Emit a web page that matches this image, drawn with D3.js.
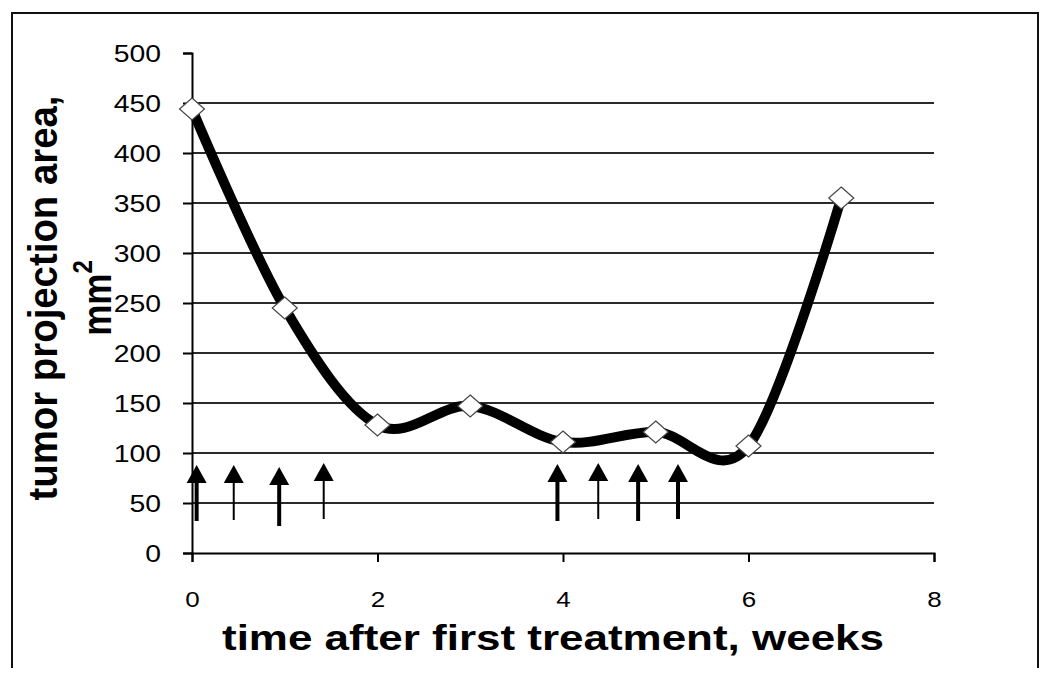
<!DOCTYPE html>
<html>
<head>
<meta charset="utf-8">
<script src="https://cdn.jsdelivr.net/npm/d3@7"></script>
<style>
  body { margin: 0; background: #fff; }
  text { font-family: "Liberation Sans", Arial, sans-serif; fill: #000; }
</style>
</head>
<body>
<div class="chart"></div>
<script>
// data
var weeks = [0, 1, 2, 3, 4, 5, 6, 7];
var area = [444, 245, 128, 147, 111, 121, 107, 355];

// treatment arrows
var arrowWeeks = [0.05, 0.45, 0.94, 1.42, 3.94, 4.38, 4.81, 5.24];
var arrowTop = [88, 88, 86, 90, 89, 90, 89, 89];
var arrowBase = [32, 33, 27, 34, 32, 34, 32, 34];
var arrowThick = [true, false, true, false, true, false, true, true];

var yTicks = [0, 50, 100, 150, 200, 250, 300, 350, 400, 450, 500];
var xTicks = [0, 2, 4, 6, 8];

var svgWidth = 1050;
var svgHeight = 683;
var stretch = 1.18;

var svg = d3.select(".chart")
  .append("svg")
  .attr("width", svgWidth)
  .attr("height", svgHeight);

// outer frame (bottom edge is cut off)
svg.append("path")
  .attr("d", "M12,668 L12,13 L1038,13 L1038,668")
  .attr("fill", "none")
  .attr("stroke", "#111")
  .attr("stroke-width", 2);

var xScale = d3.scaleLinear().domain([0, 8]).range([192, 934]);
var yScale = d3.scaleLinear().domain([0, 500]).range([553, 53]);

// gridlines
svg.append("g")
  .selectAll("line")
  .data(yTicks.filter(d => d > 0 && d < 500))
  .enter()
  .append("line")
  .attr("x1", xScale(0))
  .attr("x2", xScale(8))
  .attr("y1", d => yScale(d))
  .attr("y2", d => yScale(d))
  .attr("stroke", "#2a2a2a")
  .attr("stroke-width", 2);

// y axis
var yAxis = svg.append("g")
  .attr("transform", `translate(${xScale(0)},0)`)
  .call(d3.axisLeft(yScale).tickValues(yTicks).tickSize(9).tickPadding(0));
yAxis.select(".domain").attr("stroke", "#000").attr("stroke-width", 2);
yAxis.selectAll(".tick line").attr("stroke", "#000").attr("stroke-width", 2);
yAxis.selectAll("text")
  .attr("font-size", 24)
  .attr("x", -31 / stretch)
  .attr("dy", "0.36em")
  .attr("transform", `scale(${stretch},1)`);

// x axis
var xAxis = svg.append("g")
  .attr("transform", `translate(0,${yScale(0)})`)
  .call(d3.axisBottom(xScale).tickValues(xTicks).tickSize(9).tickPadding(29));
xAxis.select(".domain").attr("stroke", "#000").attr("stroke-width", 2);
xAxis.selectAll(".tick line").attr("stroke", "#000").attr("stroke-width", 2);
xAxis.selectAll("text")
  .attr("font-size", 22)
  .attr("transform", `scale(${stretch},1)`);

// arrows
var arrows = svg.append("g");
arrowWeeks.forEach(function(w, i) {
  var x = xScale(w);
  var tip = yScale(arrowTop[i]);
  arrows.append("line")
    .attr("x1", x).attr("x2", x)
    .attr("y1", yScale(arrowBase[i]))
    .attr("y2", tip + 14)
    .attr("stroke", "#000")
    .attr("stroke-width", arrowThick[i] ? 4 : 2);
  arrows.append("path")
    .attr("d", `M${x},${tip} L${x + 10},${tip + 18} L${x - 10},${tip + 18} Z`)
    .attr("fill", "#000");
});

// smoothed line
var line = d3.line()
  .x((d, i) => xScale(weeks[i]))
  .y(d => yScale(d))
  .curve(d3.curveCardinal.tension(0));

svg.append("path")
  .datum(area)
  .attr("d", line)
  .attr("fill", "none")
  .attr("stroke", "#000")
  .attr("stroke-width", 10)
  .attr("stroke-linejoin", "round");

// diamond markers
svg.append("g")
  .selectAll("path")
  .data(area)
  .enter()
  .append("path")
  .attr("d", "M0,-11 L12.5,0 L0,11 L-12.5,0 Z")
  .attr("transform", (d, i) => `translate(${xScale(weeks[i])},${yScale(d)})`)
  .attr("fill", "#fff")
  .attr("stroke", "#444")
  .attr("stroke-width", 1.2);

// x axis title
svg.append("text")
  .attr("x", 553)
  .attr("y", 650)
  .attr("text-anchor", "middle")
  .attr("font-size", 35)
  .attr("font-weight", "bold")
  .attr("textLength", 662)
  .attr("lengthAdjust", "spacingAndGlyphs")
  .text("time after first treatment, weeks");

// y axis title, two lines
var yTitle = svg.append("g")
  .attr("transform", `translate(57,298) rotate(-90) scale(1,${stretch})`);
yTitle.append("text")
  .attr("x", 0)
  .attr("y", 0)
  .attr("text-anchor", "middle")
  .attr("font-size", 35)
  .attr("font-weight", "bold")
  .attr("textLength", 405)
  .attr("lengthAdjust", "spacingAndGlyphs")
  .text("tumor projection area,");
var mm = yTitle.append("text")
  .attr("x", 0)
  .attr("y", 46)
  .attr("text-anchor", "middle")
  .attr("font-size", 35)
  .attr("font-weight", "bold");
mm.append("tspan").text("mm");
mm.append("tspan")
  .attr("font-size", 24)
  .attr("dy", -16)
  .text("2");
</script>
</body>
</html>
